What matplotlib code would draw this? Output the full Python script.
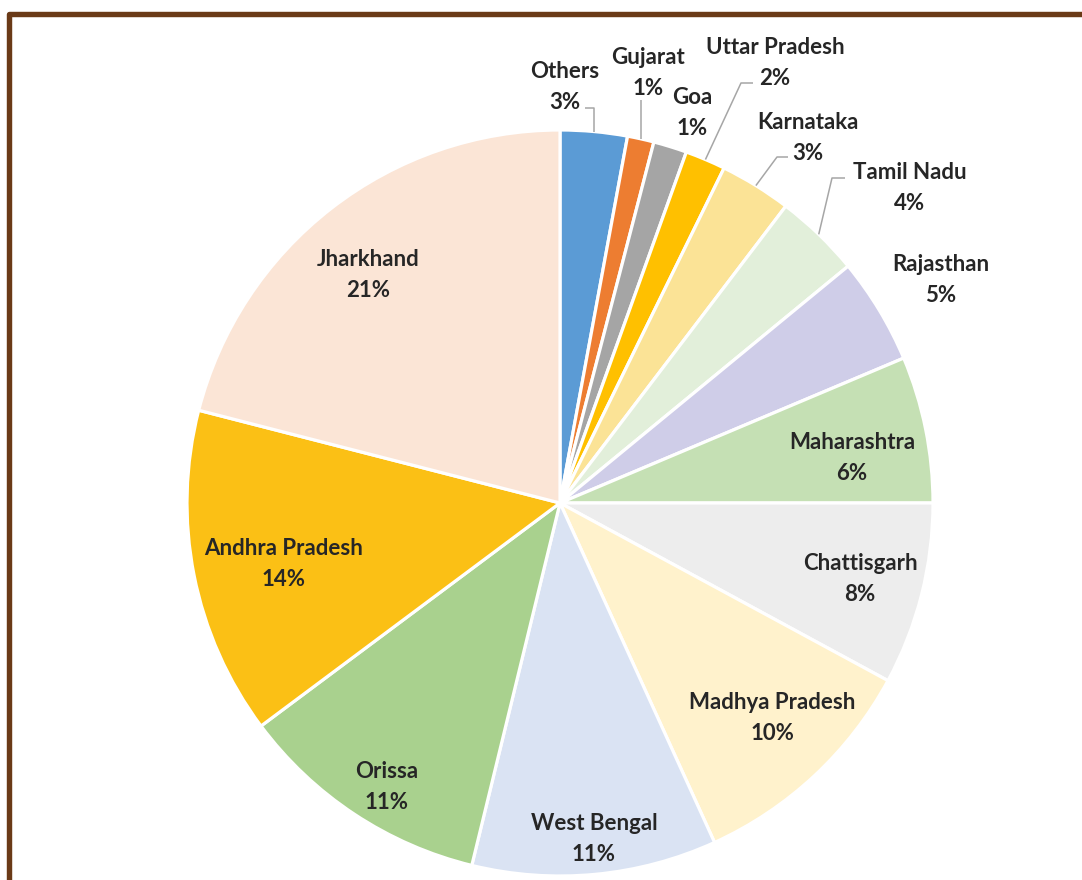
import numpy as np
import matplotlib
matplotlib.use('Agg')
from matplotlib import pyplot as plt
from matplotlib.patches import Rectangle

# State-wise shares (percent), clockwise from 12 o'clock
states = ['Others', 'Gujarat', 'Goa', 'Uttar Pradesh', 'Karnataka', 'Tamil Nadu',
          'Rajasthan', 'Maharashtra', 'Chattisgarh', 'Madhya Pradesh',
          'West Bengal', 'Orissa', 'Andhra Pradesh', 'Jharkhand']
shares = [2.9, 1.15, 1.45, 1.75, 3.1, 3.7, 4.6, 6.35, 7.9, 10.3, 10.6, 11.0, 14.2, 21.0]
colors = ['#5B9BD5', '#ED7D31', '#A5A5A5', '#FFC000', '#FBE396', '#E2EFDA',
          '#CFCDE8', '#C5E0B4', '#EDEDED', '#FFF2CC', '#DAE3F3', '#A9D18E',
          '#FBC015', '#FBE5D6']

W, H = 1082, 880
cx, cy, rad = 560, 503, 373   # pie centre / radius in pixels (y from top)

# label block centres in pixels (y from top)
label_pos = [(565, 87), (648, 73), (692, 113), (775, 63), (808, 138), (910, 188),
             (941, 280), (852, 458), (860, 579), (772, 718), (594, 839),
             (387, 787), (284, 564), (368, 275)]
# leader line bends for the outside labels (pixels, y from top)
leaders = {0: [(None, 108), (585, 108)],
           1: [(None, 100)],
           3: [(741, 83), (753, 83)],
           4: [(777, 157), (788, 157)],
           5: [(832, 178), (845, 178)]}

fig = plt.figure(figsize=(W / 100, H / 100), dpi=100)
ax = fig.add_axes([0, 0, 1, 1])

ax.pie(shares, colors=colors, startangle=90, counterclock=False,
       center=(cx, H - cy), radius=rad,
       wedgeprops=dict(edgecolor='white', linewidth=2.3))
ax.set_xlim(0, W)
ax.set_ylim(0, H)
ax.set_aspect('equal')
ax.axis('off')

font = dict(family=['Lato', 'DejaVu Sans'], weight='bold', size=16, color='#262626')
cum = np.cumsum([0] + shares)
total = cum[-1]
for i, name in enumerate(states):
    x, y = label_pos[i]
    ax.text(x, H - y, f'{name}\n{round(shares[i] / total * 100):.0f}%',
            ha='center', va='center', linespacing=1.6, **font)
    if i in leaders:
        mid = np.deg2rad((cum[i] + shares[i] / 2) / total * 360)
        ex, ey = cx + rad * np.sin(mid), cy - rad * np.cos(mid)
        pts = [(ex, ey)]
        for px, py in leaders[i]:
            pts.append((ex if px is None else px, py))
        xs = [p[0] for p in pts]
        ys = [H - p[1] for p in pts]
        ax.plot(xs, ys, color='#A6A6A6', lw=1.1, solid_capstyle='butt')

# brown frame, cut by the right and bottom edges
fig.patches.append(Rectangle((9 / W, -0.1), 1.2, (H - 14.5) / H + 0.1,
                             transform=fig.transFigure, fill=False,
                             edgecolor='#6A3A17', linewidth=3.9,
                             joinstyle='round'))

fig.savefig('out.png', dpi=100, facecolor='white')
